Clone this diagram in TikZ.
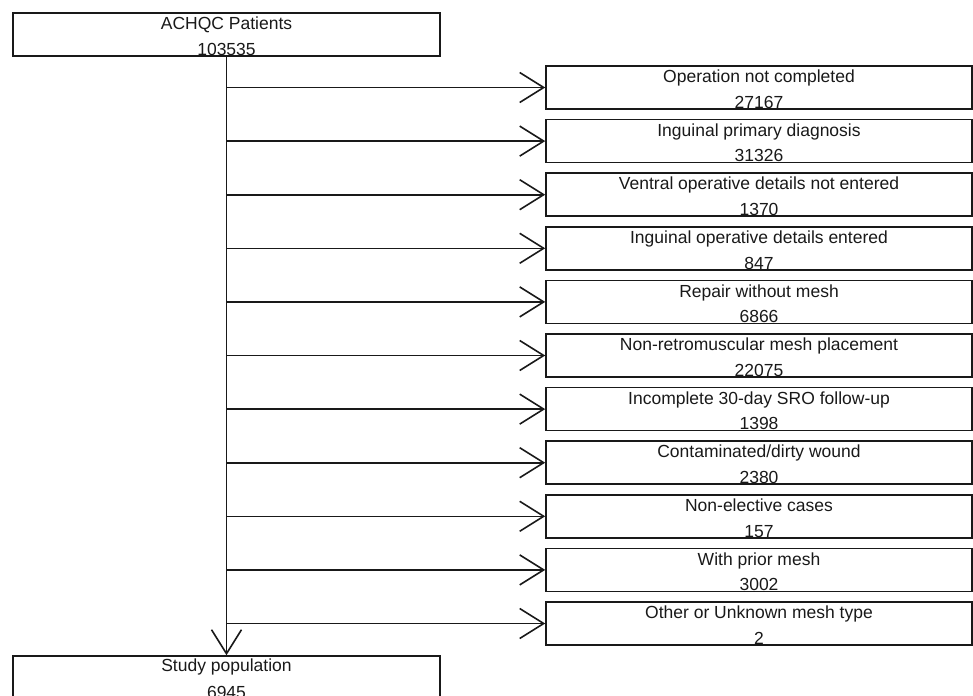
\documentclass[tikz,border=0pt]{standalone}
\usepackage{fontspec}
\setmainfont{Liberation Sans}
\usetikzlibrary{arrows.meta,calc}
\begin{document}
\begin{tikzpicture}[x=1pt,y=-1pt,
  box/.style={draw=black!90,line width=1.6pt,rectangle,inner sep=0pt,minimum height=43pt},
  txt/.style={inner sep=0pt,anchor=base,font=\fontsize{17.5}{21}\selectfont,text=black!90},
  arr/.style={draw=black!90,line width=1.6pt,-{Straight Barb[length=24pt,width=30pt,line width=1.6pt]}}]
\useasboundingbox (0,0) rectangle (973,695);
% top box
\node[box,minimum width=427pt] (top) at (226.5,34.5) {};
\node[txt] (topa) at ($(top.north)+(0,17)$) {ACHQC Patients};
\node[txt] (topb) at ($(top.north)+(0,43)$) {103535};
% bottom box
\node[box,minimum width=427pt] (bot) at (226.5,677.5) {};
\node[txt] (bota) at ($(bot.north)+(0,16.5)$) {Study population};
\node[txt] (botb) at ($(bot.north)+(0,43)$) {6945};
% vertical line
\draw[arr] (top.south) -- (bot.north);
% right boxes
\foreach \i/\t/\n in {0/Operation not completed/27167,
  1/Inguinal primary diagnosis/31326,
  2/Ventral operative details not entered/1370,
  3/Inguinal operative details entered/847,
  4/Repair without mesh/6866,
  5/Non-retromuscular mesh placement/22075,
  6/Incomplete 30-day SRO follow-up/1398,
  7/Contaminated\slash dirty wound/2380,
  8/Non-elective cases/157,
  9/With prior mesh/3002,
  10/Other or Unknown mesh type/2}{
  \node[box,minimum width=426pt] (r\i) at (759,87.5+53.6*\i) {};
  \node[txt] (ra\i) at ($(r\i.north)+(0,17.5)$) {\t};
  \node[txt] (rb\i) at ($(r\i.north)+(0,43)$) {\n};
  \coordinate (s\i) at (227,87.5+53.6*\i);
  \draw[arr] (s\i) -- (r\i.west);
}
\end{tikzpicture}
\end{document}
